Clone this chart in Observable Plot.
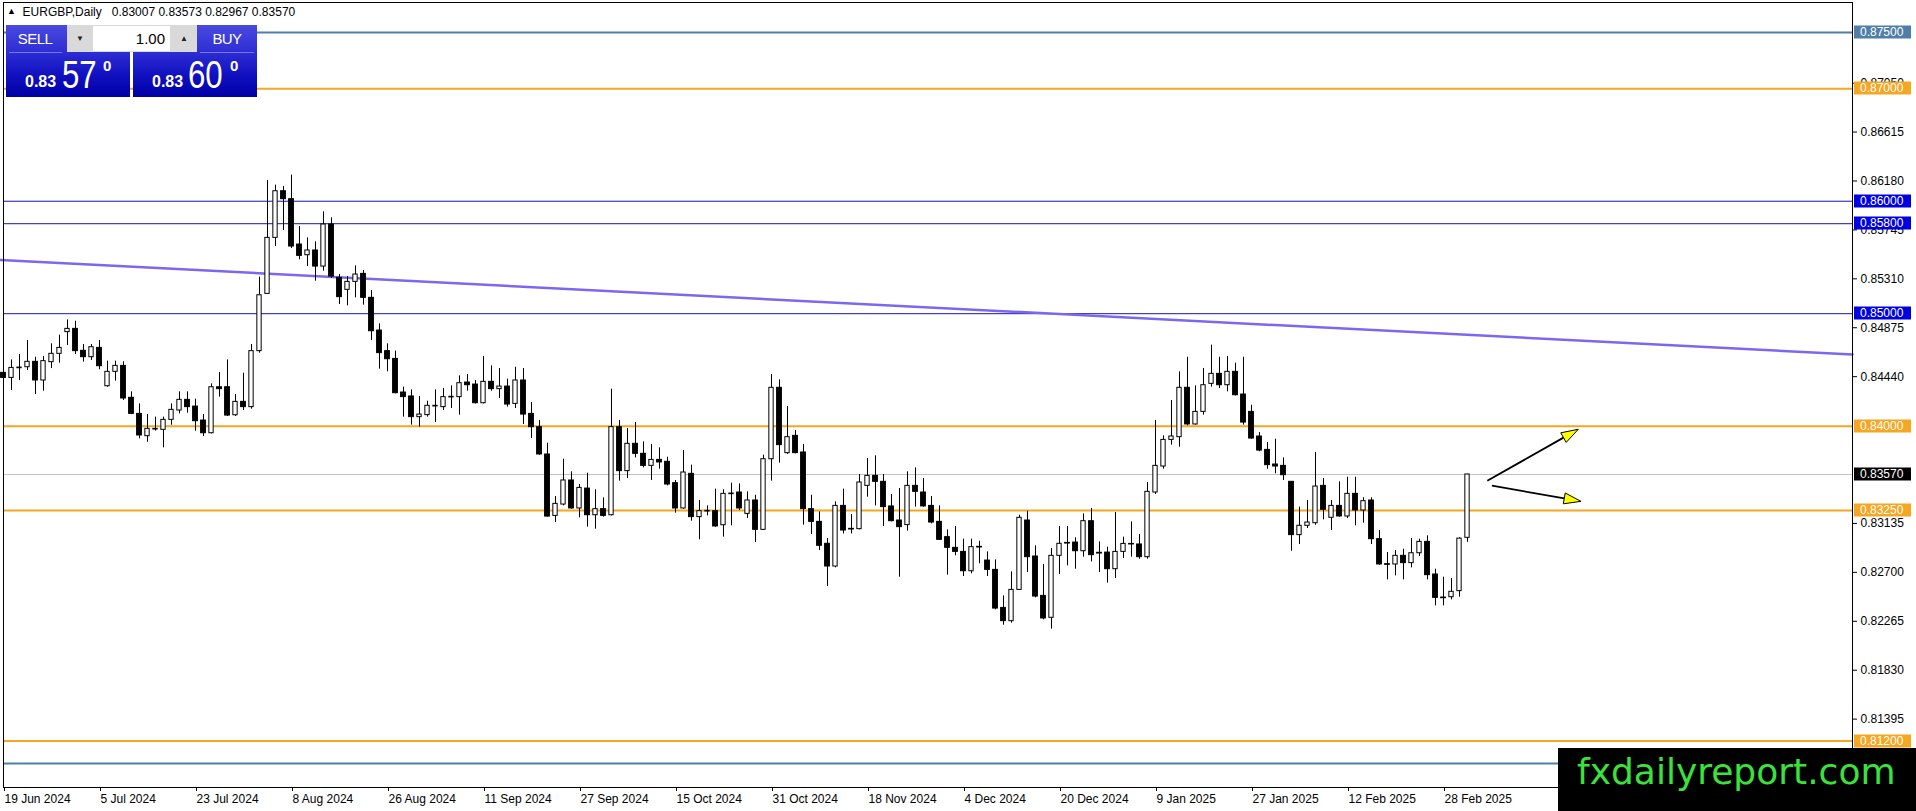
<!DOCTYPE html>
<html><head><meta charset="utf-8">
<script src="https://cdn.jsdelivr.net/npm/d3@7"></script>
<script src="https://cdn.jsdelivr.net/npm/@observablehq/plot@0.6"></script>
<style>
body{margin:0;background:#fff;overflow:hidden;}
#wrap{position:relative;width:1916px;height:811px;font-family:'Liberation Sans',Arial,sans-serif;}
#wrap svg{display:block;overflow:visible;}
.ov{position:absolute;white-space:pre;}
.pbox{position:absolute;background:linear-gradient(180deg,#4a4ae0 0%,#2d2dd4 38%,#1010c0 70%,#0000a6 100%);}
</style></head>
<body><div id="wrap"></div>
<script>
// ---- data (EURGBP daily, bar index 0 = 19 Jun 2024) ----
const open = [0.84474,0.84429,0.84515,0.84524,0.84572,0.84406,0.84569,0.84643,0.84836,0.84865,
0.84670,0.84613,0.84696,0.84355,0.84483,0.84536,0.84252,0.84109,0.83911,0.83970,
0.83967,0.84056,0.84139,0.84234,0.84174,0.84050,0.83937,0.84346,0.84346,0.84097,
0.84216,0.84169,0.84667,0.85176,0.85674,0.86089,0.86018,0.85615,0.85520,0.85562,
0.85419,0.85793,0.85319,0.85212,0.85283,0.85354,0.85141,0.84850,0.84667,0.84598,
0.84299,0.84264,0.84080,0.84098,0.84175,0.84169,0.84255,0.84258,0.84388,0.84370,
0.84204,0.84394,0.84329,0.84352,0.84198,0.84406,0.84109,0.83991,0.83748,0.83202,
0.83303,0.83517,0.83268,0.83445,0.83208,0.83262,0.83208,0.83991,0.83600,0.83843,
0.83754,0.83647,0.83700,0.83683,0.83493,0.83268,0.83576,0.83191,0.83241,0.83244,
0.83119,0.83395,0.83410,0.83220,0.83339,0.83078,0.83706,0.84341,0.83760,0.83914,
0.83766,0.83262,0.83149,0.82954,0.82752,0.83291,0.83087,0.83084,0.83469,0.83558,
0.83505,0.83286,0.83161,0.83120,0.83469,0.83410,0.83291,0.83149,0.83013,0.82918,
0.82882,0.82710,0.82927,0.82805,0.82722,0.82384,0.82266,0.82544,0.83161,0.82841,
0.82491,0.82296,0.82847,0.82962,0.82965,0.82888,0.83155,0.82874,0.82876,0.82728,
0.82882,0.82953,0.82948,0.82835,0.83410,0.83641,0.83878,0.83902,0.84341,0.84015,
0.84127,0.84376,0.84465,0.84364,0.84483,0.84281,0.84127,0.83908,0.83789,0.83659,
0.83647,0.83505,0.83031,0.83114,0.83137,0.83469,0.83185,0.83291,0.83197,0.83398,
0.83250,0.83339,0.82995,0.82773,0.82770,0.82847,0.82782,0.82870,0.82971,0.82681,
0.82476,0.82479,0.82533,0.83007];
const high = [0.84524,0.84589,0.84637,0.84761,0.84613,0.84619,0.84732,0.84809,0.84945,0.84933,
0.84726,0.84726,0.84761,0.84578,0.84578,0.84572,0.84305,0.84198,0.84103,0.84080,
0.84080,0.84198,0.84305,0.84305,0.84240,0.84103,0.84376,0.84477,0.84589,0.84281,
0.84471,0.84726,0.85325,0.86184,0.86143,0.86131,0.86232,0.85775,0.85674,0.85639,
0.85906,0.85852,0.85348,0.85330,0.85425,0.85384,0.85206,0.84910,0.84732,0.84667,
0.84347,0.84323,0.84264,0.84222,0.84323,0.84335,0.84358,0.84447,0.84459,0.84406,
0.84619,0.84536,0.84512,0.84418,0.84524,0.84512,0.84210,0.84050,0.83848,0.83374,
0.83706,0.83594,0.83481,0.83582,0.83434,0.83362,0.84329,0.84050,0.83979,0.84032,
0.83860,0.83837,0.83807,0.83724,0.83517,0.83783,0.83653,0.83339,0.83291,0.83440,
0.83434,0.83493,0.83487,0.83416,0.83386,0.83742,0.84459,0.84412,0.84175,0.83961,
0.83837,0.83386,0.83238,0.83001,0.83327,0.83440,0.83214,0.83570,0.83712,0.83736,
0.83570,0.83392,0.83445,0.83594,0.83629,0.83534,0.83374,0.83291,0.83078,0.83108,
0.82995,0.82995,0.82977,0.82882,0.82811,0.82491,0.82704,0.83208,0.83244,0.82936,
0.82770,0.82912,0.83108,0.83108,0.83007,0.83220,0.83268,0.82971,0.82924,0.83232,
0.83013,0.83149,0.83036,0.83499,0.84050,0.83914,0.84228,0.84483,0.84613,0.84358,
0.84513,0.84720,0.84613,0.84619,0.84560,0.84613,0.84186,0.83943,0.83855,0.83884,
0.83718,0.83505,0.83280,0.83339,0.83766,0.83534,0.83339,0.83505,0.83546,0.83546,
0.83363,0.83363,0.83072,0.82876,0.82894,0.82906,0.83001,0.82995,0.83025,0.82728,
0.82657,0.82645,0.83007,0.83573];
const low = [0.84281,0.84317,0.84406,0.84495,0.84281,0.84311,0.84512,0.84560,0.84717,0.84637,
0.84569,0.84584,0.84501,0.84346,0.84400,0.84228,0.84103,0.83887,0.83857,0.83955,
0.83807,0.84008,0.84109,0.84115,0.83955,0.83908,0.83931,0.84258,0.84086,0.84086,
0.84139,0.84151,0.84649,0.85176,0.85597,0.85740,0.85579,0.85479,0.85419,0.85289,
0.85378,0.85313,0.85082,0.85070,0.85141,0.85076,0.84761,0.84507,0.84483,0.84287,
0.84080,0.84009,0.83991,0.84080,0.84032,0.84139,0.84157,0.84098,0.84311,0.84198,
0.84198,0.84311,0.84246,0.84169,0.84157,0.84015,0.83890,0.83742,0.83191,0.83143,
0.83291,0.83262,0.83185,0.83102,0.83084,0.83191,0.83202,0.83511,0.83534,0.83718,
0.83629,0.83517,0.83617,0.83469,0.83226,0.83262,0.83155,0.82989,0.83202,0.83102,
0.83013,0.83114,0.83250,0.83179,0.82965,0.83072,0.83511,0.83671,0.83748,0.83754,
0.83120,0.83036,0.82894,0.82574,0.82740,0.83042,0.83042,0.83078,0.83368,0.83291,
0.83108,0.83149,0.82657,0.83066,0.83280,0.83280,0.83131,0.82983,0.82675,0.82847,
0.82663,0.82687,0.82776,0.82663,0.82367,0.82230,0.82248,0.82539,0.82699,0.82473,
0.82278,0.82195,0.82681,0.82758,0.82728,0.82835,0.82793,0.82699,0.82604,0.82645,
0.82823,0.82835,0.82817,0.82817,0.83392,0.83617,0.83831,0.83813,0.84003,0.84009,
0.84098,0.84347,0.84335,0.84305,0.84269,0.84009,0.83884,0.83772,0.83617,0.83576,
0.83517,0.82888,0.82948,0.83090,0.83119,0.83167,0.83072,0.83191,0.83179,0.83114,
0.83137,0.82948,0.82764,0.82633,0.82669,0.82633,0.82740,0.82841,0.82633,0.82402,
0.82402,0.82456,0.82479,0.82967];
const close = [0.84429,0.84518,0.84521,0.84572,0.84406,0.84578,0.84643,0.84696,0.84865,0.84667,
0.84613,0.84702,0.84533,0.84483,0.84536,0.84246,0.84109,0.83917,0.83976,0.83976,
0.84056,0.84145,0.84234,0.84169,0.84044,0.83937,0.84346,0.84329,0.84094,0.84216,
0.84169,0.84667,0.85164,0.85674,0.86089,0.86018,0.85597,0.85514,0.85562,0.85419,
0.85793,0.85330,0.85147,0.85283,0.85348,0.85141,0.84844,0.84649,0.84595,0.84293,
0.84258,0.84080,0.84103,0.84181,0.84181,0.84258,0.84261,0.84382,0.84364,0.84204,
0.84394,0.84329,0.84352,0.84192,0.84406,0.84103,0.83991,0.83748,0.83196,0.83309,
0.83517,0.83268,0.83451,0.83208,0.83262,0.83202,0.83991,0.83600,0.83843,0.83754,
0.83647,0.83700,0.83677,0.83481,0.83268,0.83588,0.83191,0.83244,0.83247,0.83108,
0.83398,0.83401,0.83268,0.83339,0.83078,0.83706,0.84341,0.83831,0.83902,0.83760,
0.83262,0.83149,0.82936,0.82752,0.83291,0.83072,0.83081,0.83499,0.83558,0.83505,
0.83280,0.83155,0.83102,0.83469,0.83416,0.83286,0.83143,0.82989,0.82918,0.82882,
0.82710,0.82924,0.82921,0.82722,0.82378,0.82266,0.82544,0.83185,0.82835,0.82485,
0.82290,0.82847,0.82954,0.82956,0.82888,0.83155,0.82853,0.82867,0.82728,0.82882,
0.82953,0.82948,0.82835,0.83416,0.83647,0.83878,0.83908,0.84341,0.84015,0.84127,
0.84364,0.84465,0.84364,0.84483,0.84275,0.84032,0.83890,0.83783,0.83653,0.83641,
0.83564,0.83031,0.83114,0.83143,0.83463,0.83256,0.83291,0.83197,0.83398,0.83250,
0.83333,0.82995,0.82770,0.82767,0.82847,0.82782,0.82870,0.82971,0.82675,0.82473,
0.82470,0.82527,0.83000,0.83570];

const xTickLabels = ["19 Jun 2024","5 Jul 2024","23 Jul 2024","8 Aug 2024","26 Aug 2024","11 Sep 2024","27 Sep 2024","15 Oct 2024","31 Oct 2024","18 Nov 2024","4 Dec 2024","20 Dec 2024","9 Jan 2025","27 Jan 2025","12 Feb 2025","28 Feb 2025"];
const barsPerLabel = 12;
// price-scale labels that are not fully covered by a level box
const yTicks = [0.87050,0.86615,0.86180,0.85745,0.85310,0.84875,0.84440,0.83135,0.82700,0.82265,0.81830,0.81395];

const levelPrices = [0.87500,0.87000,0.86000,0.85800,0.85000,0.84000,0.83250,0.81200,0.81000];
const levelColors = ["#4f7fa8","#f5a623","#1414b4","#1414b4","#1414b4","#f5a623","#f5a623","#f5a623","#4f7fa8"];
const levelBoxColors = ["#4f7fa8","#f5a623","#0000e0","#0000e0","#0000e0","#f5a623","#f5a623","#f5a623",null];
const levelWidths = [2,2,1,1,1,2,2,2,2];
const lastPrice = 0.83570;

const trendIdx = [-0.375, 231.125];
const trendPrice = [0.85477, 0.84637];

const arrowStartIdx = [185.54, 186.12];
const arrowStartPrice = [0.83510, 0.83466];
const arrowEndIdx = [196.91, 197.25];
const arrowEndPrice = [0.83968, 0.83327];

const xDomain = [0, 231.125];
const yDomain = [0.80787, 0.87767];

// ---- derived tables ----
const candles = open.map((o, i) => ({i, o, h: high[i], l: low[i], c: close[i]}));
const upC = candles.filter(d => d.c >= d.o);
const dnC = candles.filter(d => d.c < d.o);
const tickIdx = xTickLabels.map((_, k) => k * barsPerLabel);
const tickLabelMap = new Map(tickIdx.map((t, k) => [t, xTickLabels[k]]));
const fmt = d3.format(".5f");
const labelRows = levelPrices.map((p, k) => ({price: p, bg: levelBoxColors[k]}))
  .filter(d => d.bg)
  .concat([{price: lastPrice, bg: "#000000"}]);
const trend = trendIdx.map((t, k) => ({i: t, p: trendPrice[k]}));
const NS = "http://www.w3.org/2000/svg";

function el(name, attrs) {
  const e = document.createElementNS(NS, name);
  for (const k in attrs) e.setAttribute(k, attrs[k]);
  return e;
}

function arrowMark(index, scales) {
  const sx = scales.x, sy = scales.y;
  const g = el("g", {});
  arrowStartIdx.forEach((s, k) => {
    const x1 = sx(s), y1 = sy(arrowStartPrice[k]);
    const x2 = sx(arrowEndIdx[k]), y2 = sy(arrowEndPrice[k]);
    const a = Math.atan2(y2 - y1, x2 - x1), L = 17, W = 5.5;
    const bx = x2 - L * Math.cos(a), by = y2 - L * Math.sin(a);
    const px = -Math.sin(a) * W, py = Math.cos(a) * W;
    g.appendChild(el("line", {x1, y1, x2: bx, y2: by, stroke: "#000", "stroke-width": 1.8}));
    g.appendChild(el("polygon", {points: `${x2},${y2} ${bx + px},${by + py} ${bx - px},${by - py}`, fill: "#ffff00", stroke: "#000", "stroke-width": 1}));
  });
  return g;
}

function levelLabelMark(index, scales) {
  const sx = scales.x, sy = scales.y;
  const x0 = sx(xDomain[1]);
  const g = el("g", {"font-family": "'Liberation Sans', Arial, sans-serif", "font-size": 12, "text-anchor": "start"});
  labelRows.forEach(d => {
    const y = Math.round(sy(d.price));
    g.appendChild(el("rect", {x: x0 + 2, y: y - 6.5, width: 57, height: 13, fill: d.bg}));
    const t = el("text", {x: x0 + 8, y: y, dy: "0.36em", fill: "#fff", "text-anchor": "start"});
    t.textContent = fmt(d.price);
    g.appendChild(t);
  });
  return g;
}

const marks = [];
levelPrices.forEach((p, k) => marks.push(Plot.ruleY([p], {stroke: levelColors[k], strokeWidth: levelWidths[k]})));
marks.push(Plot.line(trend, {x: "i", y: "p", stroke: "#7b68ee", strokeWidth: 2.5}));
marks.push(Plot.ruleY([lastPrice], {stroke: "#c0c0c0", strokeWidth: 1}));
marks.push(Plot.ruleX(candles, {x: "i", y1: "l", y2: "h", stroke: "#000", strokeWidth: 1}));
marks.push(Plot.rect(dnC, {x1: d => d.i - 0.3, x2: d => d.i + 0.3, y1: "o", y2: "c", fill: "#000", stroke: "#000", strokeWidth: 1}));
marks.push(Plot.rect(upC, {x1: d => d.i - 0.27, x2: d => d.i + 0.27, y1: "o", y2: "c", fill: "#fff", stroke: "#000", strokeWidth: 1}));
marks.push(arrowMark);
marks.push(Plot.frame({stroke: "#000"}));
marks.push(Plot.axisY(yTicks, {anchor: "right", tickFormat: fmt, tickSize: 4, tickPadding: 4, fontSize: 12, label: null, fill: "#000", stroke: "#000"}));
marks.push(Plot.axisX(tickIdx, {anchor: "bottom", tickFormat: d => tickLabelMap.get(d), tickSize: 4, tickPadding: 3, textAnchor: "start", dx: 1, fontSize: 12, label: null, fill: "#000", stroke: "#000"}));
marks.push(levelLabelMark);

const chart = Plot.plot({
  width: 1916, height: 811,
  marginLeft: 3, marginRight: 64, marginTop: 2, marginBottom: 24,
  x: {domain: xDomain, axis: null},
  y: {domain: yDomain, axis: null},
  style: {background: "#fff", fontFamily: "'Liberation Sans', Arial, sans-serif", fontSize: "12px", color: "#000", overflow: "visible"},
  marks
});
const wrap = document.getElementById("wrap");
wrap.appendChild(chart);

// overlays: header, one-click trading panel, watermark
function ov(html, css, cls) {
  const d = document.createElement("div");
  d.className = cls || "ov";
  d.style.cssText = css;
  d.innerHTML = html;
  wrap.appendChild(d);
  return d;
}
ov('<span style="font-size:9px;position:relative;top:-2px">▲</span>  EURGBP,Daily   0.83007 0.83573 0.82967 0.83570', "left:7px;top:5px;font-size:12px;line-height:14px;color:#000;");
ov("", "left:6px;top:25px;width:124px;height:72px;", "pbox");
ov("", "left:133px;top:25px;width:124px;height:72px;", "pbox");
ov("", "left:9px;top:52px;width:53px;height:1px;background:rgba(255,255,255,0.35);");
ov("", "left:200px;top:52px;width:54px;height:1px;background:rgba(255,255,255,0.35);");
ov("", "left:67px;top:25px;width:130px;height:27px;background:#d9d9d9;");
ov("", "left:93px;top:26px;width:77px;height:25px;background:#fff;");
ov("1.00", "left:93px;top:26px;width:72px;height:25px;line-height:25px;text-align:right;font-size:15px;color:#000;");
ov("▼", "left:67px;top:25px;width:26px;height:27px;line-height:27px;text-align:center;font-size:8px;color:#222;");
ov("▲", "left:171px;top:25px;width:26px;height:27px;line-height:27px;text-align:center;font-size:8px;color:#222;");
ov("SELL", "left:6px;top:25px;width:58px;height:27px;line-height:28px;text-align:center;font-size:15px;color:#fff;letter-spacing:-0.6px;");
ov("BUY", "left:197px;top:25px;width:60px;height:27px;line-height:28px;text-align:center;font-size:15px;color:#fff;letter-spacing:-0.6px;");
ov("0.83", "left:25px;top:74px;font-size:16px;line-height:16px;font-weight:bold;color:#fff;");
ov("57", "left:62px;top:55px;font-size:39px;line-height:39px;color:#fff;transform:scaleX(0.8);transform-origin:left top;");
ov("0", "left:103px;top:58px;font-size:15px;line-height:15px;font-weight:bold;color:#fff;");
ov("0.83", "left:152px;top:74px;font-size:16px;line-height:16px;font-weight:bold;color:#fff;");
ov("60", "left:188px;top:55px;font-size:39px;line-height:39px;color:#fff;transform:scaleX(0.8);transform-origin:left top;");
ov("0", "left:230px;top:58px;font-size:15px;line-height:15px;font-weight:bold;color:#fff;");
ov("", "left:1558px;top:748px;width:358px;height:63px;background:#000;");
ov("fxdailyreport.com", "left:1577px;top:754px;font-family:'DejaVu Sans',sans-serif;font-size:36px;line-height:36px;color:#3be23b;");
</script></body></html>
